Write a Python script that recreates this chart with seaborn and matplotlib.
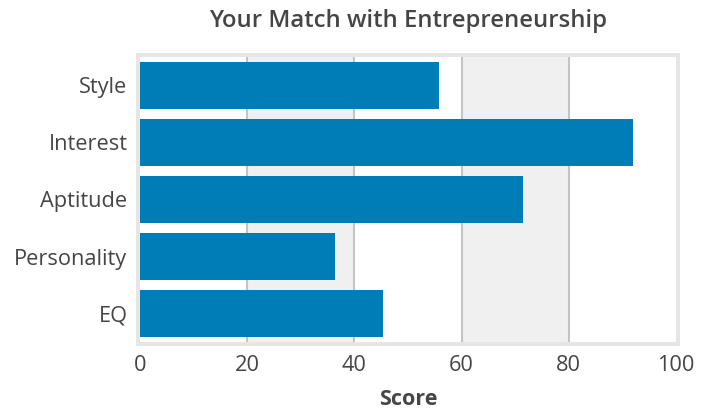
import matplotlib
matplotlib.use("Agg")
import matplotlib.pyplot as plt
from matplotlib.patches import Rectangle
import seaborn as sns
import pandas as pd

categories = ["Style", "Interest", "Aptitude", "Personality", "EQ"]
scores = [55.8, 92.0, 71.5, 36.4, 45.3]
x_ticks = [0, 20, 40, 60, 80, 100]

sns.set_theme(style="white")
plt.rcParams["font.family"] = ["Open Sans", "DejaVu Sans"]

text_color = "#454545"
bar_color = "#007db6"

df = pd.DataFrame({"category": categories, "score": scores})

W, H = 712, 413
fig = plt.figure(figsize=(W / 100, H / 100), dpi=100)
left, right, top, bottom = 140, 676, 56.7, 342.3
ax = fig.add_axes([left / W, 1 - bottom / H, (right - left) / W, (bottom - top) / H])

# light frame around the plotting area
pad = 4
fig.patches.append(Rectangle(((left - pad) / W, 1 - (bottom + pad) / H),
                             (right - left + 2 * pad) / W, (bottom - top + 2 * pad) / H,
                             transform=fig.transFigure, facecolor="#e6e6e6",
                             edgecolor="none", zorder=-1))

# alternating background bands
for lo, hi in [(20, 40), (60, 80)]:
    ax.axvspan(lo, hi, color="#f0f0f0", zorder=0, lw=0)
for xv in x_ticks[1:-1]:
    ax.axvline(xv, color="#c4c4c4", lw=1.5, zorder=1)

sns.barplot(data=df, x="score", y="category", orient="h", color=bar_color,
            saturation=1, width=0.82, linewidth=0, edgecolor="none", ax=ax, zorder=2)

ax.set_xlim(0, 100)
ax.set_ylim(len(categories) - 0.5, -0.5)
ax.set_xticks(x_ticks)
ax.set_xticklabels([str(t) for t in x_ticks])
for s in ax.spines.values():
    s.set_visible(False)
ax.tick_params(axis="both", length=0, labelsize=15.7, labelcolor=text_color)
ax.tick_params(axis="y", pad=9)
ax.tick_params(axis="x", pad=9.5)
ax.set_ylabel("")
ax.set_xlabel("Score", fontsize=15.5, fontweight="bold", color=text_color, labelpad=9)

fig.text(408 / W, 1 - 21 / H, "Your Match with Entrepreneurship",
         ha="center", va="center", fontsize=17.2, fontweight="semibold", color=text_color)

fig.savefig("out.png", dpi=100)
